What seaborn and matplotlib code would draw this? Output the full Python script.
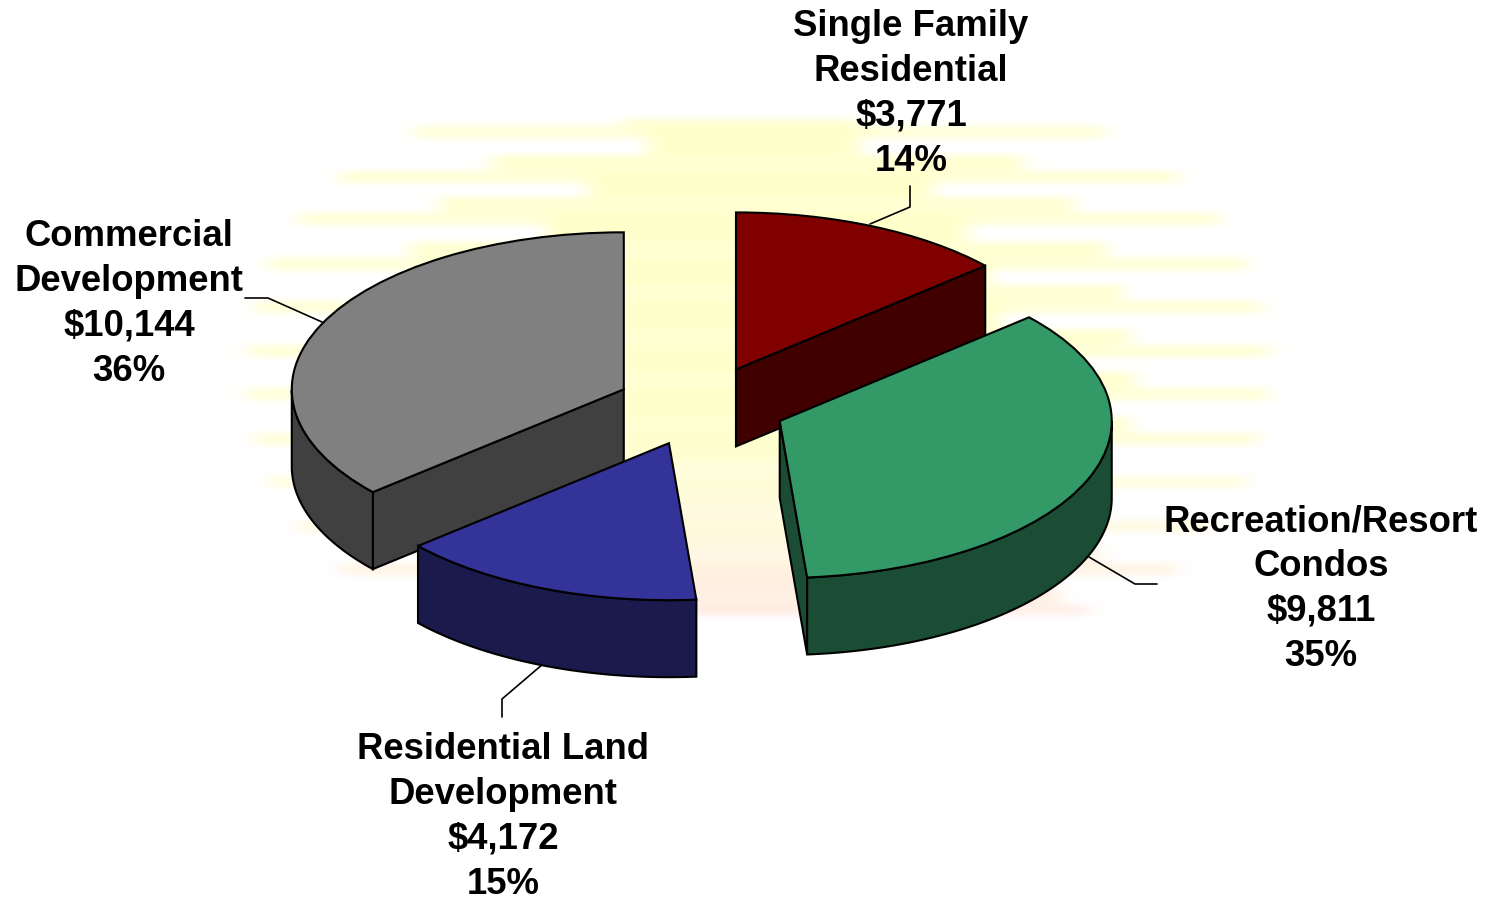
import numpy as np
import pandas as pd
import matplotlib
matplotlib.use('Agg')
import matplotlib.pyplot as plt
import seaborn as sns

# chart values
categories = ['Single Family\nResidential', 'Recreation/Resort\nCondos',
              'Residential Land\nDevelopment', 'Commercial\nDevelopment']
amounts = [3771, 9811, 4172, 10144]

# colours for the top and the side of each slice
top_colors = ['#800000', '#339966', '#333399', '#808080']
side_colors = ['#400000', '#1A4D33', '#1A1A4D', '#404040']

# layout in pixels
W, H = 1489, 903
CX, CY = 701, 407
RX, RY = 332, 157
DEPTH = 77 / RY
EXPLODE = 0.2557

label_pos = [(911, 94), (1321, 589), (503, 817), (129, 304)]
leaders = [[(870, 225), (910, 208), (910, 187)],
           [(1089, 558), (1135, 585), (1157, 585)],
           [(543, 665), (502, 700), (502, 718)],
           [(322, 323), (268, 299), (245, 299)]]

# background glow, one row per streak
streak_y = [133, 178, 220, 265, 308, 352, 395, 440, 483, 527, 570, 612]
streak_l = [415, 340, 298, 268, 255, 248, 248, 256, 270, 298, 340, 560]
streak_r = [1105, 1178, 1220, 1247, 1262, 1270, 1268, 1257, 1246, 1213, 1176, 1089]
step_l = [620, 490, 440, 410, 390, 380, 380, 390, 410, 440, 490, 600]
step_r = [860, 1023, 1073, 1107, 1123, 1130, 1135, 1130, 1100, 1100, 1100, 1060]
gap_l = [647, 587, 547, 500, 480, 470, 470, 480, 500, 540, 587, 700]
gap_r = [860, 933, 967, 990, 1000, 1000, 1000, 1000, 1000, 1000, 1000, 800]
glow_y = [120, 430, 490, 540, 580, 625]
glow_c = [(255, 255, 204), (255, 255, 204), (255, 253, 218), (255, 248, 222), (255, 240, 224), (255, 234, 226)]


def glow_image():
    mask = np.zeros((H, W))
    for i, y in enumerate(streak_y):
        mask[y - 22:y - 6, step_l[i]:step_r[i]] = 0.85
        mask[y - 6:y + 6, streak_l[i]:streak_r[i]] = 0.75
        mask[y - 6:y + 6, gap_l[i]:gap_r[i]] = 1
        mask[y + 6:y + 23, gap_l[i]:gap_r[i]] = 1
    mask[:120] = 0
    mask[616:] = 0
    kx = np.ones(21) / 21
    ky = np.ones(7) / 7
    for _ in range(2):
        mask = np.apply_along_axis(np.convolve, 1, mask, kx, mode='same')
        mask = np.apply_along_axis(np.convolve, 0, mask, ky, mode='same')
    rows = np.arange(H)
    img = np.ones((H, W, 3))
    for c in range(3):
        col = np.interp(rows, glow_y, [g[c] / 255 for g in glow_c])
        img[:, :, c] = 1 - mask * (1 - col[:, None])
    return img


sns.set_theme(style='white')
plt.rcParams['font.family'] = ['Liberation Sans', 'DejaVu Sans']

df = pd.DataFrame({'category': categories, 'amount': amounts})
df['share'] = df['amount'] / df['amount'].sum()

fig = plt.figure(figsize=(W / 100, H / 100), dpi=100)

# pixel axes behind the pie, holds the glow, the labels and the leader lines
back = fig.add_axes([0, 0, 1, 1])
back.imshow(glow_image(), extent=(0, W, H, 0), aspect='auto', interpolation='bilinear')
back.set_xlim(0, W)
back.set_ylim(H, 0)
back.axis('off')

for i, row in df.iterrows():
    text = f"{row['category']}\n${row['amount']:,}\n{row['share']:.0%}"
    back.text(label_pos[i][0], label_pos[i][1], text, ha='center', va='center',
              fontsize=26.3, fontweight='bold', color='black', linespacing=1.37)
    back.plot(*zip(*leaders[i]), color='black', lw=1.2)

# pie axes, one data unit is RX pixels across and RY pixels down
ax = fig.add_axes([0, 0, 1, 1], zorder=2)
ax.patch.set_visible(False)
wedges, _ = ax.pie(df['amount'], explode=[EXPLODE] * 4, startangle=90, counterclock=False,
                   colors=top_colors, wedgeprops={'edgecolor': 'black', 'linewidth': 1.5})
ax.set_aspect('auto')
ax.set_xlim(-CX / RX, (W - CX) / RX)
ax.set_ylim(-(H - CY) / RY, CY / RY)
ax.axis('off')

draw_order = [0, 3, 1, 2]
for n, i in enumerate(draw_order):
    w = wedges[i]
    cx, cy = w.center
    base = 2 * n + 1
    edge = {'facecolor': side_colors[i], 'edgecolor': 'black', 'linewidth': 1.5, 'zorder': base}

    # flat cut faces turned towards the viewer
    for theta, turn in ((w.theta1, -90), (w.theta2, 90)):
        if np.sin(np.radians(theta + turn)) < -1e-6:
            px = cx + np.cos(np.radians(theta))
            py = cy + np.sin(np.radians(theta))
            ax.fill([cx, px, px, cx], [cy, py, py - DEPTH, cy - DEPTH], **edge)

    # rim on the front half of the pie
    t = np.radians(np.linspace(w.theta1, w.theta2, 300))
    t = t[np.sin(t) <= 0]
    if len(t):
        xs = cx + np.cos(t)
        ys = cy + np.sin(t)
        ax.fill(np.r_[xs, xs[::-1]], np.r_[ys, ys[::-1] - DEPTH], **edge)
    w.set_zorder(base + 1)

fig.savefig('out.png', dpi=100)
